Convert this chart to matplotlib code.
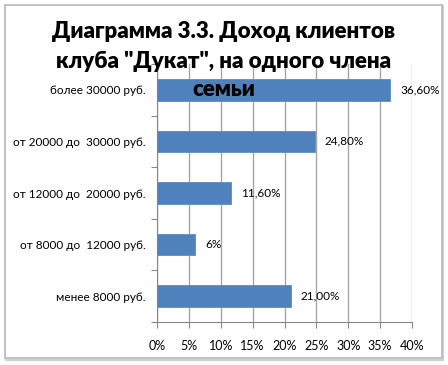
import matplotlib
matplotlib.use("Agg")
import matplotlib.pyplot as plt
from matplotlib.patches import Rectangle
import numpy as np

categories = ["более 30000 руб.", "от 20000 до  30000 руб.", "от 12000 до  20000 руб.",
              "от 8000 до  12000 руб.", "менее 8000 руб."]
values = [36.6, 24.8, 11.6, 6.0, 21.0]
value_labels = ["36,60%", "24,80%", "11,60%", "6%", "21,00%"]
xticks = [0, 5, 10, 15, 20, 25, 30, 35, 40]
xtick_labels = ["0%", "5%", "10%", "15%", "20%", "25%", "30%", "35%", "40%"]
title_lines = ["Диаграмма 3.3. Доход клиентов", "клуба \"Дукат\", на одного члена", "семьи"]

FONT = "Lato"
W, H = 448, 365
fig = plt.figure(figsize=(W / 100, H / 100), dpi=100)
fig.patch.set_facecolor("white")

# frame with shadow
fig.patches.append(Rectangle((6 / W, 1 - 360 / H), 437 / W, 354 / H, transform=fig.transFigure,
                             facecolor="none", edgecolor="#D0D0D0", lw=1.5, zorder=-10))
fig.patches.append(Rectangle((4.5 / W, 1 - 358 / H), 437 / W, 353.5 / H, transform=fig.transFigure,
                             facecolor="white", edgecolor="#B8B8B8", lw=1.2, zorder=-9))

ax = fig.add_axes([157 / W, 1 - 322 / H, (412 - 157) / W, (322 - 64) / H])
ax.set_facecolor("none")
n = len(categories)
y = np.arange(n)
ax.barh(y, values, height=0.42, color="#4F81BD", edgecolor="#5B8BC6", lw=0.6, zorder=3)
ax.set_ylim(n - 0.5, -0.5)
ax.set_xlim(0, 40)
ax.set_xticks(xticks)
ax.set_xticklabels(xtick_labels, fontsize=9, family=FONT)
ax.set_yticks(y)
ax.set_yticklabels(categories, fontsize=8.5, family=FONT)
ax.set_yticks(np.arange(-0.5, n, 1), minor=True)
ax.tick_params(axis="y", which="major", length=0, pad=8)
ax.tick_params(axis="y", which="minor", length=4, color="#888888", width=0.8)
ax.tick_params(axis="x", which="major", length=4, color="#888888", width=0.8, pad=9)
ax.grid(axis="x", color="#A6A6A6", lw=1, zorder=1)
for s in ["top", "right"]:
    ax.spines[s].set_visible(False)
for s in ["left", "bottom"]:
    ax.spines[s].set_color("#888888")
    ax.spines[s].set_linewidth(0.8)

for yi, v, lab in zip(y, values, value_labels):
    ax.annotate(lab, (v, yi), xytext=(7, 0), textcoords="offset points", va="center", ha="left",
                fontsize=8.5, family=FONT, zorder=4)

ys = [31, 61, 90]
for line, yy in zip(title_lines, ys):
    fig.text(224 / W, 1 - yy / H, line, ha="center", va="center", fontsize=16,
             fontweight="heavy", family=FONT, zorder=10)

fig.savefig("out.png", dpi=100)
